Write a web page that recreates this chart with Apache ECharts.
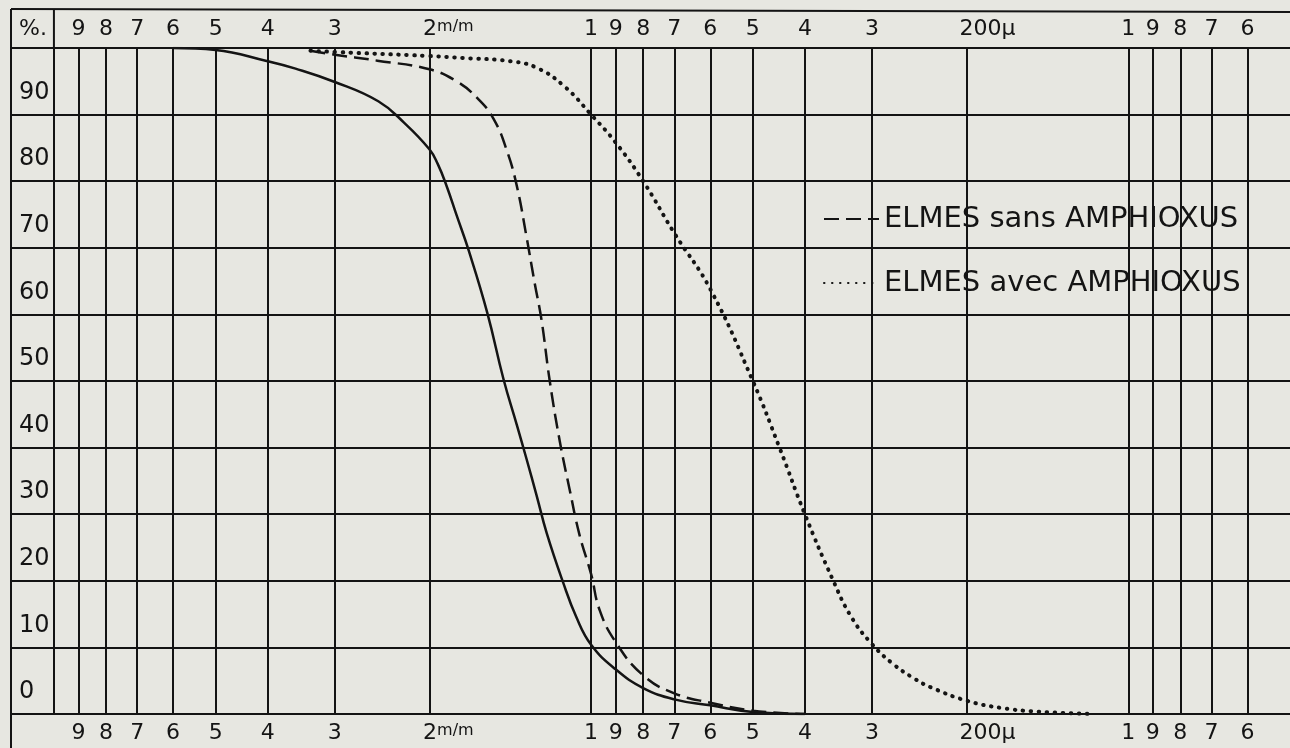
<!DOCTYPE html>
<html><head><meta charset="utf-8">
<script src="https://cdn.jsdelivr.net/npm/echarts@6/dist/echarts.min.js"></script>
<style>html,body{margin:0;padding:0;background:#e7e7e1;}#c{width:1290px;height:748px;}</style>
</head><body><div id="c"></div>
<script>
// Grain size (mm), log scale, decreasing to the right
const gridValues = [10, 9, 8, 7, 6, 5, 4, 3, 2, 1, 0.9, 0.8, 0.7, 0.6, 0.5, 0.4, 0.3, 0.2, 0.1, 0.09, 0.08, 0.07, 0.06];
const tickValues = [9, 8, 7, 6, 5, 4, 3, 2, 1, 0.9, 0.8, 0.7, 0.6, 0.5, 0.4, 0.3, 0.2, 0.1, 0.09, 0.08, 0.07, 0.06];
const tickLabels = ['9', '8', '7', '6', '5', '4', '3', '2m/m', '1', '9', '8', '7', '6', '5', '4', '3', '200µ', '1', '9', '8', '7', '6'];
const percentHeader = '%.';

const seriesNames = ['courbe pleine', 'ELMES sans AMPHIOXUS', 'ELMES avec AMPHIOXUS'];

// [size mm, cumulative %]
const solidCurve = [
  [6.0, 100], [5.0, 99.7], [4.0, 98.0], [3.55, 96.9], [3.0, 94.9], [2.49, 92.0], [2.23, 88.8],
  [2.0, 84.8], [1.93, 82.6], [1.86, 79.4], [1.78, 74.9], [1.69, 69.6], [1.56, 60.2], [1.456, 50.3],
  [1.375, 43.4], [1.32, 38.4], [1.263, 32.8], [1.21, 27.2], [1.128, 19.8], [1.066, 14.6], [1.0, 10.4],
  [0.9, 6.7], [0.8, 3.9], [0.7, 2.2], [0.6, 1.3], [0.5, 0.3], [0.4, 0]
];
const dashedCurve = [
  [3.33, 99.6], [3.0, 99.0], [2.5, 98.1], [2.0, 96.8], [1.78, 95.0], [1.63, 92.5], [1.52, 89.4],
  [1.435, 84.6], [1.375, 79.3], [1.32, 71.8], [1.273, 64.6], [1.237, 59.2], [1.194, 50], [1.144, 41.0],
  [1.097, 33.8], [1.051, 26.9], [1.0, 21], [0.964, 15.6], [0.9, 10.8], [0.8, 5.8], [0.7, 3.1],
  [0.6, 1.7], [0.5, 0.5], [0.4, 0]
];
const dottedCurve = [
  [3.33, 99.6], [3.0, 99.4], [2.0, 98.8], [1.73, 98.5], [1.41, 98.0], [1.26, 97.0], [1.12, 94.2],
  [1.0, 90], [0.9, 85.8], [0.8, 80], [0.7, 72.2], [0.6, 63.8], [0.5, 50], [0.446, 40], [0.4, 30],
  [0.355, 20.2], [0.328, 14.6], [0.3, 10.5], [0.273, 7.4], [0.25, 5.3], [0.233, 4.0], [0.2, 2.0],
  [0.172, 0.9], [0.147, 0.35], [0.116, 0]
];

const INK = '#141414';
const FONT = 'DejaVu Sans';

function xLabel(v) {
  const i = tickValues.findIndex(t => Math.abs(t - v) < t * 1e-6);
  if (i < 0) return '';
  const s = tickLabels[i];
  if (s === '2m/m') return '{p|}{t|2}{s|m/m}';
  if (s === '200µ') return '{q|}{t|200µ}';
  return '{t|' + s + '}';
}
const xRich = {
  t: { fontSize: 22, fontFamily: FONT, color: INK },
  s: { fontSize: 16, fontFamily: FONT, color: INK, padding: [0, 0, 4, 0] },
  p: { width: 38 },
  q: { width: 42 }
};

function makeX(pos, showSplit) {
  return {
    type: 'log', logBase: 10, inverse: true, min: 0.05, max: 12.02, position: pos,
    axisLine: { show: false },
    axisTick: { show: false, customValues: gridValues },
    axisLabel: { customValues: tickValues, formatter: xLabel, rich: xRich, margin: 8, hideOverlap: false },
    splitLine: { show: showSplit, lineStyle: { color: INK, width: 2 } },
    minorSplitLine: { show: false }
  };
}

const curveBase = { type: 'line', showSymbol: false, symbol: 'none', smooth: 0.45, z: 5 };

const chart = echarts.init(document.getElementById('c'));
chart.setOption({
  backgroundColor: '#e7e7e1',
  animation: false,
  grid: { left: 11, right: 0, top: 48, bottom: 34, containLabel: false },
  xAxis: [makeX('bottom', true), makeX('top', false)],
  yAxis: {
    type: 'value', min: 0, max: 100, interval: 10,
    axisLine: { show: true, lineStyle: { color: INK, width: 2 } },
    axisTick: { show: false },
    splitLine: { show: true, lineStyle: { color: INK, width: 2 } },
    axisLabel: {
      inside: true, margin: 8, verticalAlign: 'bottom',
      formatter: v => v === 100 ? '{h|' + percentHeader + '}' : '{v|' + v + '}',
      rich: {
        v: { fontSize: 24, fontFamily: FONT, color: INK, lineHeight: 44 },
        h: { fontSize: 22, fontFamily: FONT, color: INK, lineHeight: 38 }
      }
    }
  },
  legend: {
    data: [seriesNames[1], seriesNames[2]],
    orient: 'vertical', left: 818, top: 197,
    itemWidth: 55, itemHeight: 14, itemGap: 30,
    itemStyle: { color: 'rgba(0,0,0,0)', borderWidth: 0, opacity: 0 },
    textStyle: { fontFamily: FONT, fontSize: 29, color: INK, lineHeight: 34 }
  },
  series: [
    Object.assign({}, curveBase, { name: seriesNames[0], data: solidCurve,
      lineStyle: { color: INK, width: 2.5 } }),
    Object.assign({}, curveBase, { name: seriesNames[1], data: dashedCurve, itemStyle: { color: INK },
      lineStyle: { color: INK, width: 2.5, type: [15, 7] } }),
    Object.assign({}, curveBase, { name: seriesNames[2], data: dottedCurve, itemStyle: { color: INK },
      lineStyle: { color: INK, width: 4, type: [0.5, 7.5], cap: 'round' } })
  ]
});

const x10 = chart.convertToPixel({ xAxisIndex: 0 }, 10);
const yTop = chart.convertToPixel({ yAxisIndex: 0 }, 100);
const yBot = chart.convertToPixel({ yAxisIndex: 0 }, 0);
const ls = { stroke: INK, lineWidth: 2 };
chart.setOption({
  graphic: [
    { type: 'line', shape: { x1: 11, y1: 9, x2: 1290, y2: 12 }, style: ls },
    { type: 'line', shape: { x1: 11, y1: 9, x2: 11, y2: yTop }, style: ls },
    { type: 'line', shape: { x1: 11, y1: yBot, x2: 11, y2: 748 }, style: ls },
    { type: 'line', shape: { x1: x10, y1: 9, x2: x10, y2: yTop }, style: ls }
  ]
});
</script>
</body></html>
